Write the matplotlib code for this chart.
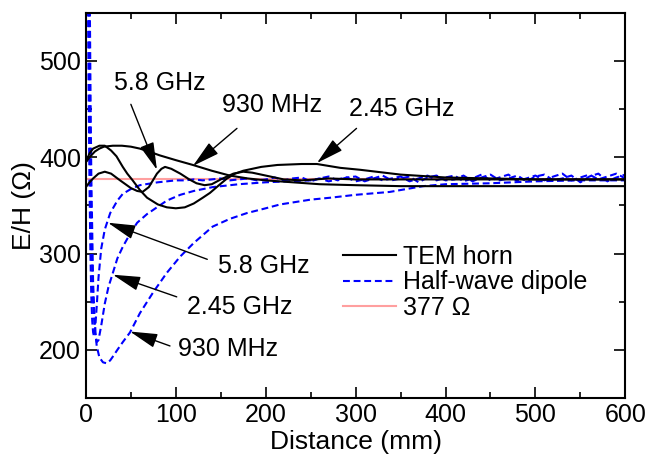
import matplotlib
matplotlib.use('Agg')
import matplotlib.pyplot as plt

plt.rcParams['font.family'] = ['Liberation Sans', 'DejaVu Sans']
plt.rcParams['font.size'] = 18

# TEM horn (black solid)
tem930_x = [0, 5, 10, 15, 20, 30, 40, 50, 60, 70, 82, 100, 119, 140, 160, 180, 200, 230, 260, 300, 350, 400, 500, 600]
tem930_v = [395, 401, 406, 409, 411, 412, 412, 411, 409, 406, 402, 397, 392, 386, 381, 378, 376, 374, 372, 371, 370, 370, 370, 370]

tem245_x = [0, 4, 8, 15, 21, 28, 34, 41, 46, 52, 60, 68, 80, 90, 100, 110, 120, 130, 138, 148, 157, 166, 175, 195,
            213, 240, 257, 283, 305, 350, 400, 450, 500, 600]
tem245_v = [395, 404, 409, 412, 412, 407, 401, 390, 383, 376, 366, 358, 351, 348, 347, 348, 352, 358, 363, 371, 378, 383, 386, 390,
            392, 393, 393, 389, 387, 382, 379, 378, 377, 377]

tem58_x = [0, 4, 8, 14, 21, 28, 38, 50, 57, 63, 70, 79, 84, 88, 95, 105, 115, 123, 132, 140, 150, 164, 175, 185,
           200, 220, 240, 270, 300, 350, 400, 600]
tem58_v = [369, 374, 378, 383, 385, 383, 376, 368, 365, 364, 369, 383, 388, 390, 388, 383, 377, 373, 371, 372, 377, 383, 385, 384,
           381, 377, 376, 378, 377, 377, 377, 377]

# Half-wave dipole (blue dashed)
dip58_x = [2, 3, 4, 5, 6, 7, 8, 9, 10, 12, 14, 17, 21, 27, 35, 41, 50, 60, 80, 100] + list(range(110, 610, 10))
dip58_v = [600, 470, 370, 300, 255, 230, 218, 214, 218, 245, 275, 305, 325, 342, 355, 362, 367, 371, 374, 376,
           376, 377, 376, 377, 378, 376, 377, 378, 376,
           377, 379, 376, 378, 379, 375, 378, 380, 376, 379,
           380, 375, 378, 381, 376, 378, 380, 374, 379, 381,
           376, 377, 381, 375, 379, 382, 376, 378, 381, 375,
           380, 382, 376, 378, 381, 374, 380, 383, 375, 379,
           382]

dip245_x = [3, 4, 5, 6, 8, 10, 12, 14, 17, 21, 25, 30, 35, 41, 50, 57, 68, 79, 90, 105, 120, 141, 170, 200, 225] + list(range(250, 610, 10))
dip245_v = [600, 480, 390, 320, 250, 218, 208, 210, 225, 248, 265, 280, 295, 307, 322, 332, 341, 348, 355, 361, 365, 369, 372, 374, 375,
            376, 378, 375, 377, 379, 375, 377, 380, 376, 378,
            380, 375, 378, 381, 376, 379, 381, 375, 378, 382,
            376, 379, 382, 375, 378, 381, 376, 380, 383, 376,
            379, 382, 377, 380, 383, 378]

dip930_x = [4, 5, 6, 8, 10, 12, 15, 19, 23, 27, 30, 35, 41, 49, 60, 75, 90, 105, 120, 141, 160, 179, 200, 216, 250, 272,
            300, 338, 375, 400, 450, 500, 550, 600]
dip930_v = [600, 480, 380, 270, 225, 204, 192, 187, 186, 189, 193, 200, 208, 218, 238, 260, 280, 297, 311, 328, 336, 342, 347, 351, 356, 358,
            361, 364, 370, 372, 373, 375, 376, 376]

free_space = 377

fig = plt.figure(figsize=(6.46, 4.59), dpi=100)
ax = fig.add_axes([0.133, 0.133, 0.835, 0.839])

ax.axhline(free_space, color='#ff9f9f', lw=1.5, label='377 \u03a9', zorder=1)
ax.plot(tem930_x, tem930_v, color='black', lw=1.5, label='TEM horn', zorder=3)
ax.plot(tem245_x, tem245_v, color='black', lw=1.5, zorder=3)
ax.plot(tem58_x, tem58_v, color='black', lw=1.5, zorder=3)
for xs, vs, lab in [(dip58_x, dip58_v, 'Half-wave dipole'), (dip245_x, dip245_v, None), (dip930_x, dip930_v, None)]:
    ax.plot(xs, vs, color='#0000ff', lw=1.5, ls=(0, (3.3, 1.8)), label=lab, zorder=2)

ax.set_xlim(0, 600)
ax.set_ylim(150, 550)
ax.set_xticks([0, 100, 200, 300, 400, 500, 600])
ax.set_xticks(range(50, 600, 100), minor=True)
ax.set_yticks([200, 300, 400, 500])
ax.set_yticks([150, 250, 350, 450, 550], minor=True)
ax.tick_params(which='both', direction='in', top=True, right=True, width=1.2, labelsize=18)
ax.tick_params(which='major', length=8)
ax.tick_params(which='minor', length=4.5)
for s in ax.spines.values():
    s.set_linewidth(1.5)
ax.set_xlabel('Distance (mm)', fontsize=19, labelpad=2)
ax.set_ylabel('E/H (\u03a9)', fontsize=19, labelpad=2)

# annotations: text, text pos, arrow start, arrow tip
notes = [
    ('5.8 GHz', (82, 477), (50, 455), (79, 387)),
    ('930 MHz', (207, 454), (168, 430), (119, 391)),
    ('2.45 GHz', (351, 450), (301, 430), (257, 394)),
    ('5.8 GHz', (198, 287), (135, 294), (24.5, 332)),
    ('2.45 GHz', (171, 244), (101, 255), (30, 278)),
    ('930 MHz', (158, 201), (93.5, 204), (49, 219)),
]
for txt, tp, a0, a1 in notes:
    ax.text(tp[0], tp[1], txt, ha='center', va='center', fontsize=18)
    ax.annotate('', xy=a1, xytext=a0,
                arrowprops=dict(arrowstyle='-|>,head_length=0.85,head_width=0.22', color='black', lw=1.0,
                                mutation_scale=20, shrinkA=0, shrinkB=0))

ax.legend(loc='upper left', bbox_to_anchor=(0.477, 0.397), frameon=False, fontsize=18,
          borderpad=0, borderaxespad=0, handlelength=2.1, handletextpad=0.3, labelspacing=0.05,
          handles=[ax.lines[1], ax.lines[4], ax.lines[0]])

fig.savefig('out.png', dpi=100)
